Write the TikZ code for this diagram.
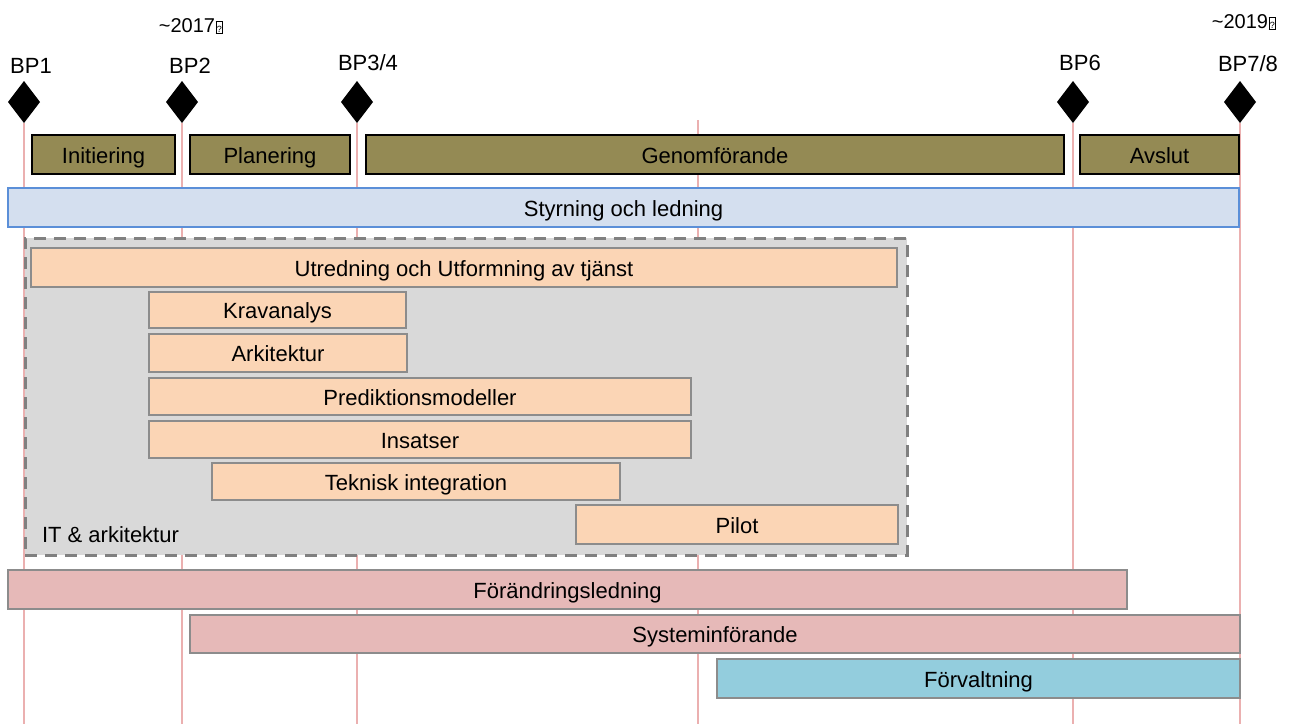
\documentclass[tikz,border=0pt]{standalone}
\usepackage{fontspec}
\setmainfont{Liberation Sans}
\usetikzlibrary{shapes.geometric}
\definecolor{phasecol}{HTML}{948A54}
\definecolor{steercol}{HTML}{D4DFEF}
\definecolor{steerline}{HTML}{5B8FD8}
\definecolor{itcol}{HTML}{D9D9D9}
\definecolor{itline}{HTML}{808080}
\definecolor{taskcol}{HTML}{FBD5B5}
\definecolor{taskline}{HTML}{8C8C8C}
\definecolor{changecol}{HTML}{E6B9B8}
\definecolor{mgmtcol}{HTML}{93CDDD}
\definecolor{gridcol}{HTML}{EBB0B0}
\newcommand\barfont{\fontsize{22}{26}\selectfont}
\newcommand\yearfont{\fontsize{20}{24}\selectfont}
\newcommand\missingglyph{\kern0.5pt{\setlength{\fboxsep}{0.5pt}\setlength{\fboxrule}{0.8pt}\fbox{\rule{0pt}{10pt}\fontsize{9}{10}\selectfont ?}}}
\begin{document}
\begin{tikzpicture}[x=1pt,y=-1pt,
  every node/.style={inner sep=0pt, outer sep=0pt},
  gate/.style={diamond, fill=black, minimum width=32, minimum height=42, inner sep=0pt},
  bplabel/.style={font=\barfont},
  yearlabel/.style={font=\yearfont},
  gridline/.style={draw=gridcol, line width=1.6},
  bartext/.style={font=\barfont, text height=17, text depth=0},
  phase/.style={bartext, draw=black, line width=1.3, fill=phasecol, anchor=north west},
  steer/.style={bartext, draw=steerline, line width=1.3, fill=steercol, anchor=north west},
  itbox/.style={draw=itline, line width=3, dash pattern=on 12 off 8, fill=itcol, anchor=north west},
  task/.style={bartext, draw=taskline, line width=1.3, fill=taskcol, anchor=north west},
  change/.style={bartext, draw=taskline, line width=1.3, fill=changecol, anchor=north west},
  mgmt/.style={bartext, draw=taskline, line width=1.3, fill=mgmtcol, anchor=north west}]
\useasboundingbox (0,0) rectangle (1294,724);
\fill[white] (0,0) rectangle (1294,724);

% milestones
\node[gate] (d1) at (24,102) {};
\node[gate] (d2) at (182,102) {};
\node[gate] (d3) at (357,102) {};
\node[gate] (d6) at (1073,102) {};
\node[gate] (d7) at (1240,102) {};
\coordinate (bot) at (0,724);
\coordinate (mtop) at (698,120);

% grid lines
\draw[gridline] (d1.south) -- (d1.south |- bot);
\draw[gridline] (d2.south) -- (d2.south |- bot);
\draw[gridline] (d3.south) -- (d3.south |- bot);
\draw[gridline] (mtop) -- (mtop |- bot);
\draw[gridline] (d6.south) -- (d6.south |- bot);
\draw[gridline] (d7.south) -- (d7.south |- bot);

% labels
\node[bplabel] (l1) at (31,66) {BP1};
\node[bplabel] (l2) at (190,66) {BP2};
\node[bplabel] (l3) at (368,63) {BP3/4};
\node[bplabel] (l6) at (1080,63) {BP6};
\node[bplabel] (l7) at (1248,64) {BP7/8};
\node[yearlabel] (y1) at (191,26) {\textasciitilde2017\missingglyph};
\node[yearlabel] (y2) at (1244,22) {\textasciitilde2019\missingglyph};

% phases
\node[phase, minimum width=143, minimum height=39] (p1) at (32,135) {Initiering};
\node[phase, minimum width=160, minimum height=39] (p2) at (190,135) {Planering};
\node[phase, minimum width=698, minimum height=39] (p3) at (366,135) {Genomförande};
\node[phase, minimum width=159, minimum height=39] (p4) at (1080,135) {Avslut};

% steering
\node[steer, minimum width=1231, minimum height=39] (s) at (8,188) {Styrning och ledning};

% IT box
\node[itbox, minimum width=882, minimum height=317] (it) at (25,238) {};
\node[anchor=west, font=\barfont] (itl) at (42,535) {IT \& arkitektur};

\node[task, minimum width=866, minimum height=39] (t1) at (31,248) {Utredning och Utformning av tjänst};
\node[task, minimum width=257, minimum height=36] (t2) at (149,292) {Kravanalys};
\node[task, minimum width=258, minimum height=38] (t3) at (149,334) {Arkitektur};
\node[task, minimum width=542, minimum height=37] (t4) at (149,378) {Prediktionsmodeller};
\node[task, minimum width=542, minimum height=37] (t5) at (149,421) {Insatser};
\node[task, minimum width=408, minimum height=37] (t6) at (212,463) {Teknisk integration};
\node[task, minimum width=322, minimum height=39] (t7) at (576,505) {Pilot};

% lower bars
\node[change, minimum width=1119, minimum height=39] (c1) at (8,570) {Förändringsledning};
\node[change, minimum width=1050, minimum height=38] (c2) at (190,615) {Systeminförande};
\node[mgmt, minimum width=523, minimum height=39] (f) at (717,659) {Förvaltning};
\end{tikzpicture}
\end{document}
